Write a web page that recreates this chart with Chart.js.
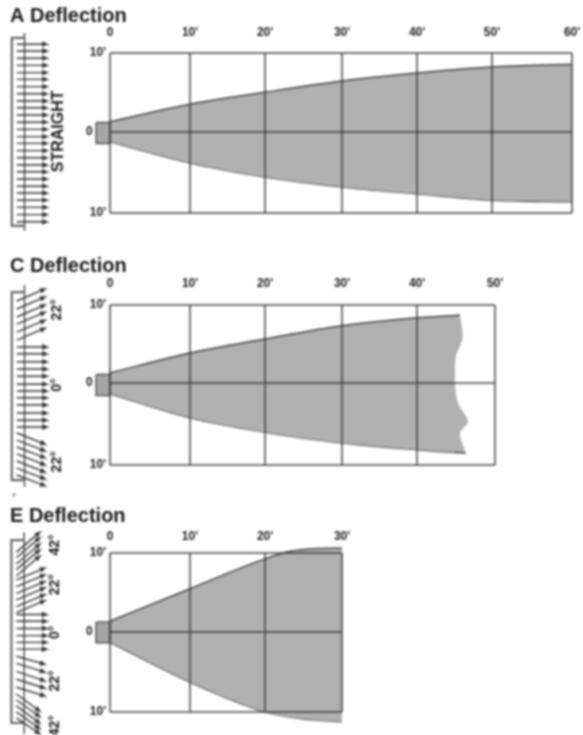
<!DOCTYPE html>
<html>
<head>
<meta charset="utf-8">
<title>Deflection</title>
<script src="https://cdn.jsdelivr.net/npm/chart.js@4"></script>
<style>
    html, body { margin: 0; padding: 0; background: #fff; }
    body { width: 583px; height: 735px; position: relative; overflow: hidden; }
    canvas { position: absolute; left: 0; filter: blur(0.8px); }
</style>
</head>
<body>
<canvas id="chartA" width="583" height="240" style="top:0"></canvas>
<canvas id="chartC" width="583" height="250" style="top:250px"></canvas>
<canvas id="chartE" width="583" height="235" style="top:500px"></canvas>
<script>
// tick positions are read off the picture, the artwork grid is not quite even
const xTicksA = [0, 10.39, 20.13, 30.13, 39.87, 49.6, 60];
const xLabelsA = ["0", "10'", "20'", "30'", "40'", "50'", "60'"];
const xTicksC = [0, 10.39, 20.13, 30.13, 39.87, 50];
const xLabelsC = ["0", "10'", "20'", "30'", "40'", "50'"];
const xTicksE = [0, 10.34, 20.04, 30];
const xLabelsE = ["0", "10'", "20'", "30'"];

const yTicksA = [10, 0.12, -10];
const yTicksC = [10, 0.25, -10];
const yTicksE = [10, 0.04, -10];
const yLabels = ["10'", "0", "10'"];

// beam edges
const edgeXA = [0, 10.39, 20.13, 30.13, 39.87, 49.6, 60];
const upperA = [1.4, 3.6, 5.1, 6.5, 7.5, 8.25, 8.6];
const lowerA = [-1.1, -3.75, -5.5, -6.75, -7.6, -8.4, -8.6];

const edgeXC = [0, 10.39, 20.13, 30.13, 39.87, 44.8];
const upperC = [1.5, 4, 5.75, 7.4, 8.4, 8.7];
const lowerC = [-1.1, -4.1, -5.9, -7.25, -8.1, -8.45];
const tailUpperX = [44.8, 45.45];
const tailUpperY = [8.7, 8.75];
const tailLowerX = [44.8, 46.2];
const tailLowerY = [-8.45, -8.5];
// wavy end of the C beam, runs top to bottom
const endEdgeX = [45.45, 45.8, 44.9, 44.8, 45.2, 46.5, 45.45, 46.2];
const endEdgeY = [8.75, 5.9, 3.5, 0.25, -2.25, -4.6, -6, -8.5];

const upperXE = [0, 10.34, 20.04, 23.3, 27, 30];
const upperE = [1.4, 5.5, 9.25, 10.2, 10.55, 10.6];
const lowerXE = [0, 10.34, 20.04, 25, 30];
const lowerE = [-1.25, -6.25, -10, -10.9, -11.25];

// source box
const boxX = [-1.8, 0, 0, -1.8, -1.8];
const boxY = [1.3, 1.3, -1.3, -1.3, 1.3];

// lens arrows
const straightRows = [11.1, 10.25, 9.35, 8.45, 7.55, 6.7, 5.8, 4.9, 4, 3.15, 2.25, 1.35, 0.45, -0.45, -1.3, -2.2, -3.1, -4, -4.85, -5.75, -6.65, -7.5, -8.4, -9.3, -10.2, -11.1];

const c22UpFrom = [10.5, 9.5, 8.5, 7.6, 6.6, 5.6];
const c22UpTo = [12, 11, 10, 9.1, 8.1, 7.1];
const cRows = [4.75, 3.9, 2.9, 2, 1.1, 0.1, -0.75, -1.6, -2.5, -3.5, -4.4, -5.25];
const c22DownFrom = [-6, -6.9, -7.75, -8.6, -9.5, -10.4, -11.25];
const c22DownTo = [-7.4, -8.25, -9.1, -10, -10.9, -11.75, -12.6];

const e42UpFrom = [10.1, 9.4, 8.6, 7.9, 7.1];
const e42UpTo = [12.6, 11.9, 11.1, 10.4, 9.6];
const e22UpFrom = [6.6, 5.75, 4.9, 4.1, 3.25, 2.5];
const e22UpTo = [8.1, 7.25, 6.4, 5.6, 4.75, 4];
const eRows = [2.25, 1.4, 0.5, -0.4, -1.25, -2.1];
const e22DownFrom = [-3, -3.9, -4.9, -5.9, -6.9];
const e22DownTo = [-4, -5, -6.1, -7, -8];
const e42DownFrom = [-7.75, -8.5, -9.25, -10, -10.75];
const e42DownTo = [-9.9, -10.6, -11.4, -12.1, -12.75];

const FONT = '"Liberation Sans", Arial, sans-serif';
const INK = "#1a1a1a";
const LINE = "#444";
const BEAM = "#b0b0b0";
const GRID = "rgba(50,50,50,.68)";

function pts(xs, ys) {
    return xs.map((x, i) => ({ x, y: ys[i] }));
}

function stroke(data, extra) {
    return Object.assign({
        data,
        borderColor: LINE,
        borderWidth: 1.5,
        pointRadius: 0,
        tension: 0,
        fill: false,
        clip: false
    }, extra);
}

// points outside the chart area are skipped, so heads are barbs on the arrow's own line
function arrows(from, to, endX) {
    const startX = -12.1;
    return from.map((y, i) => {
        const dx = (endX - startX) * 7.7;
        const dy = (to[i] - y) * 8;
        const len = Math.hypot(dx, dy);
        const ux = dx / len, uy = dy / len;
        const barb = side => ({
            x: endX + (-4 * ux - side * 1.8 * uy) / 7.7,
            y: to[i] + (-4 * uy + side * 1.8 * ux) / 8
        });
        const tip = { x: endX, y: to[i] };
        return stroke([{ x: startX, y }, tip, barb(1), barb(-1), tip], {
            borderColor: "#333",
            borderWidth: 1.4
        });
    });
}

function bracket(outerTop, outerBottom, innerTop, innerBottom) {
    return [
        stroke(pts([-11.1, -12.75, -12.75, -11.1], [outerTop, outerTop, outerBottom, outerBottom]), { borderColor: "#666", borderWidth: 2.2 }),
        stroke(pts([-11.1, -11.1], [innerTop, innerBottom]), { borderWidth: 1.4 })
    ];
}

function beam(upper, lower) {
    return [
        stroke(upper, { fill: "+1", backgroundColor: BEAM, cubicInterpolationMode: "monotone" }),
        stroke(lower, { cubicInterpolationMode: "monotone" })
    ];
}

// fill goes clipped to the chart area, so the box body is one wide stroke along its axis
function sourceBox() {
    return [
        stroke(pts(boxX, boxY), { borderColor: "#555" }),
        stroke(pts(boxX.slice(0, 2), [0, 0]), { borderColor: "#a6a6a6", borderWidth: 20 })
    ];
}

// x grid as datasets, for the panel whose y scale runs past the 10' lines
function gridColumns(ticks) {
    return ticks.map(x => stroke(pts([x, x], [10, -10]), { borderColor: GRID, borderWidth: 2 }));
}

// rotated labels beside the arrows
const sideText = {
    id: "sideText",
    afterDraw(chart, args, opts) {
        const ctx = chart.ctx;
        ctx.save();
        ctx.fillStyle = INK;
        ctx.font = `bold ${opts.size}px ${FONT}`;
        ctx.textAlign = "center";
        ctx.textBaseline = "middle";
        opts.labels.forEach((label, i) => {
            ctx.save();
            ctx.translate(chart.scales.x.getPixelForValue(opts.x), chart.scales.y.getPixelForValue(opts.ys[i]));
            ctx.rotate(-Math.PI / 2);
            ctx.fillText(label, 0, 0);
            ctx.restore();
        });
        ctx.restore();
    }
};

function buildPanel(id, cfg) {
    const canvas = document.getElementById(id);
    const yRange = cfg.yRange || 10;
    return new Chart(canvas, {
        type: "line",
        data: { datasets: cfg.datasets },
        plugins: [sideText],
        options: {
            responsive: false,
            animation: false,
            devicePixelRatio: 1,
            layout: { padding: { left: 10, top: 0, right: cfg.right, bottom: cfg.bottom } },
            plugins: {
                legend: { display: false },
                tooltip: { enabled: false },
                title: {
                    display: true,
                    text: cfg.title,
                    align: "start",
                    color: INK,
                    font: { family: FONT, size: 20, weight: "bold", lineHeight: 0.8 },
                    padding: { top: 8, bottom: 0 }
                },
                sideText: { labels: cfg.sideLabels, ys: cfg.sideYs, x: cfg.sideX, size: cfg.sideSize }
            },
            scales: {
                x: {
                    type: "linear",
                    position: "top",
                    min: 0,
                    max: cfg.xTicks[cfg.xTicks.length - 1],
                    afterBuildTicks: s => { s.ticks = cfg.xTicks.map(value => ({ value })); },
                    afterFit: s => {
                        s.height = cfg.axisHeight;
                        s.paddingLeft = 0;
                        s.paddingRight = 0;
                    },
                    border: { display: false },
                    grid: { display: !cfg.gridAsData, color: GRID, lineWidth: 2, drawTicks: false, z: 1 },
                    ticks: {
                        autoSkip: false,
                        maxRotation: 0,
                        padding: cfg.tickPad,
                        color: INK,
                        font: { family: FONT, size: 12, weight: "bold" },
                        callback: (v, i) => cfg.xLabels[i]
                    }
                },
                y: {
                    type: "linear",
                    min: -yRange,
                    max: yRange,
                    afterBuildTicks: s => { s.ticks = cfg.yTicks.map(value => ({ value })).reverse(); },
                    afterFit: s => { s.width = 100; },
                    border: { display: false },
                    grid: { color: GRID, lineWidth: 2, drawTicks: false, z: 1 },
                    ticks: {
                        autoSkip: false,
                        padding: 4,
                        color: INK,
                        font: { family: FONT, size: 12, weight: "bold" },
                        // the centre 0 sits left of the source box
                        callback: (v, i) => i === 1 ? yLabels[i] + "\u00a0\u00a0\u00a0\u00a0" : yLabels[i]
                    }
                }
            }
        }
    });
}

window.addEventListener("DOMContentLoaded", () => {
    buildPanel("chartA", {
        title: "A Deflection",
        xTicks: xTicksA, xLabels: xLabelsA, yTicks: yTicksA,
        right: 11, bottom: 27, axisHeight: 29, tickPad: 13,
        sideLabels: ["STRAIGHT"], sideYs: [0.2], sideX: -6.7, sideSize: 16,
        datasets: [
            ...sourceBox(),
            ...beam(pts(edgeXA, upperA), pts(edgeXA, lowerA)),
            ...arrows(straightRows, straightRows, -8.2),
            ...bracket(11.9, -11.6, 12.5, -12.25)
        ]
    });

    buildPanel("chartC", {
        title: "C Deflection",
        xTicks: xTicksC, xLabels: xLabelsC, yTicks: yTicksC,
        right: 88, bottom: 35, axisHeight: 31, tickPad: 14,
        sideLabels: ["22\u00b0", "0\u00b0", "22\u00b0"], sideYs: [9.4, 0, -9.6], sideX: -6.9, sideSize: 14,
        datasets: [
            ...sourceBox(),
            ...beam(pts(edgeXC, upperC), pts(edgeXC, lowerC)),
            stroke(pts(tailUpperX, tailUpperY)),
            stroke(pts(tailLowerX, tailLowerY)),
            stroke(pts(endEdgeX, endEdgeY), { indexAxis: "y", fill: { value: 44.4 }, backgroundColor: BEAM, borderWidth: 0, tension: 0.3 }),
            ...arrows(c22UpFrom, c22UpTo, -8.45),
            ...arrows(cRows, cRows, -8.2),
            ...arrows(c22DownFrom, c22DownTo, -8.45),
            ...bracket(11.6, -11.9, 12.5, -12.75),
            stroke(pts([-12.47, -12.47], [-13.55, -13.95]), { borderColor: "#999", borderWidth: 3 })
        ]
    });

    buildPanel("chartE", {
        title: "E Deflection",
        xTicks: xTicksE, xLabels: xLabelsE, yTicks: yTicksE,
        yRange: 11.5, gridAsData: true,
        right: 241, bottom: 10, axisHeight: 17, tickPad: -3,
        sideLabels: ["42\u00b0", "22\u00b0", "0\u00b0", "22\u00b0", "42\u00b0"], sideYs: [11, 6, 0, -6.1, -11.75], sideX: -7.1, sideSize: 14,
        datasets: [
            ...gridColumns(xTicksE),
            ...sourceBox(),
            ...beam(pts(upperXE, upperE), pts(lowerXE, lowerE)),
            ...arrows(e42UpFrom, e42UpTo, -9.1),
            ...arrows(e22UpFrom, e22UpTo, -8.45),
            ...arrows(eRows, eRows, -8.2),
            ...arrows(e22DownFrom, e22DownTo, -8.45),
            ...arrows(e42DownFrom, e42DownTo, -9.1),
            ...bracket(11.6, -11.4, 12.6, -12.75)
        ]
    });
});
</script>
</body>
</html>
